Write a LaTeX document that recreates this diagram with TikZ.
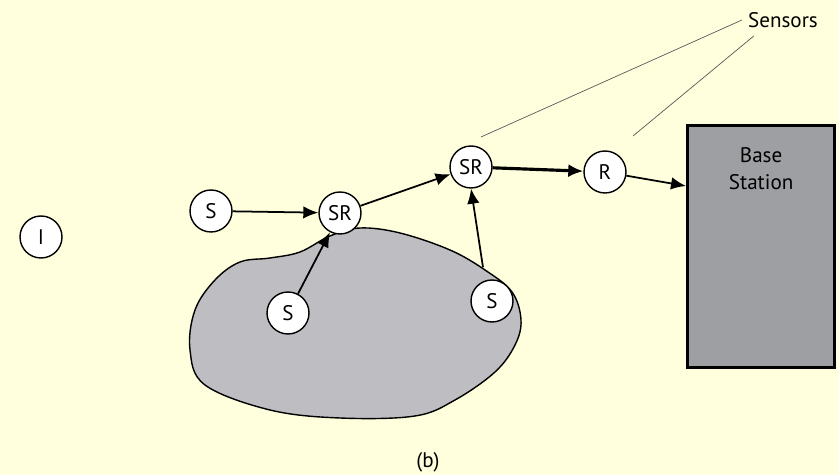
\documentclass[tikz,border=0pt]{standalone}
\usepackage{fontspec}
\setmainfont{PT Sans}
\usepackage{xcolor}
\usetikzlibrary{arrows.meta, positioning, calc}

\definecolor{paper}{RGB}{255,255,221}
\definecolor{blobgray}{RGB}{190,190,194}
\definecolor{bsgray}{RGB}{158,159,163}

\begin{document}
\begin{tikzpicture}[
  x=0.02cm, y=-0.02cm,
  sensor/.style={circle, draw, thick, fill=white, minimum size=0.84cm, inner sep=0pt, font=\fontsize{12}{14}\selectfont},
  station/.style={rectangle, draw, line width=1.6pt, fill=bsgray, minimum width=2.95cm, minimum height=4.6cm, anchor=north west, align=center, font=\fontsize{12}{15.5}\selectfont, text depth=0pt},
  arr/.style={-{Latex[length=3mm, width=2.5mm]}, line width=1pt},
  bigarr/.style={-{Latex[length=3mm, width=2.6mm]}, line width=1.8pt},
  pointer/.style={gray!70!black, thin}
]
\useasboundingbox[fill=paper] (0,0) rectangle (839,475);
% region covered by the sensor field
\draw[fill=blobgray, thick] plot[smooth cycle, tension=0.6] coordinates {
  (330,236) (360,228) (400,233) (450,250) (485,270) (512,292) (521,320)
  (515,345) (495,372) (455,400) (415,416) (340,418) (270,410) (205,385)
  (190,350) (195,310) (215,280) (240,262) (270,258) (300,252)};
% nodes
\node[sensor] (iso) at (41,237) {I};
\node[sensor] (s1) at (211,211) {S};
\node[sensor] (sr1) at (340,213) {SR};
\node[sensor] (s2) at (288,313) {S};
\node[sensor] (sr2) at (471,167) {SR};
\node[sensor] (r) at (605,172) {R};
\node[sensor] (s3) at (492,301) {S};
\node[station] (bs) at (686,124) {\\[2pt]Base\\Station\\[2.9cm]};
\node[font=\fontsize{12}{14}\selectfont] (sens) at (783,20) {Sensors};
\node[font=\fontsize{12}{14}\selectfont] (lbl) at (428,462) {(b)};
\coordinate (p1) at (481,137);
\coordinate (p2) at (633,136);
% connections
\draw[arr] (s1) -- (sr1);
\draw[arr] (sr1) -- (sr2);
\draw[arr] (s2) -- (sr1);
\draw[arr] (s3.north) ++(-9,-12) -- (sr2.south);
\draw[bigarr] (sr2) -- (r);
\draw[arr] (r) -- ($(bs.north west)+(0,62)$);
\draw[pointer] (sens.west) -- (p1);
\draw[pointer] ($(sens.south west)+(12,2)$) -- (p2);
\end{tikzpicture}
\end{document}
